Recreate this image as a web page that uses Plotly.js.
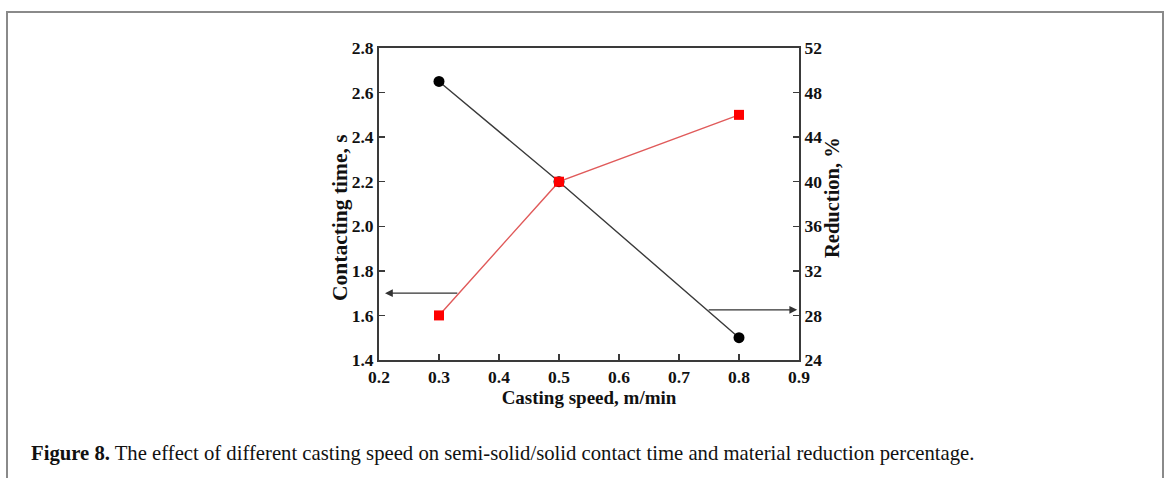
<!DOCTYPE html>
<html>
<head>
<meta charset="utf-8">
<script src="https://cdn.plot.ly/plotly-3.0.1.min.js"></script>
<style>
  html, body { margin: 0; padding: 0; background: #fff; }
  #wrap { position: relative; width: 1168px; height: 478px; overflow: hidden; }
  #frame { position: absolute; left: 6px; top: 11px; width: 1158px; height: 480px;
           border: 2px solid #8a8a8a; border-bottom: none; box-sizing: border-box; }
  #chart { position: absolute; left: 0; top: 0; width: 1168px; height: 478px; }
</style>
</head>
<body>
<div id="wrap">
  <div id="frame"></div>
  <div id="chart"></div>
</div>
<script>
// Data
const castingSpeed = [0.3, 0.5, 0.8];
const contactTime = [2.65, 2.2, 1.5];      // left axis, s
const reductionPct = [28, 40, 46];          // right axis, %

// Indicator arrows (tail x, head x, level)
const leftArrow = { fromX: 0.333, toX: 0.21, y: 1.7 };      // points to left axis
const rightArrow = { fromX: 0.747, toX: 0.897, y: 28.5 };   // points to right axis (y2 units)

const serif = 'Liberation Serif, Times New Roman, serif';
const axisColor = '#3a3a3a';

const traces = [
  {
    x: castingSpeed, y: contactTime, type: 'scatter', mode: 'lines+markers',
    line: { color: '#3a3a3a', width: 1.4 },
    marker: { symbol: 'circle', size: 11, color: '#000000' },
    yaxis: 'y', showlegend: false
  },
  {
    x: castingSpeed, y: reductionPct, type: 'scatter', mode: 'lines+markers',
    line: { color: '#e05a5a', width: 1.4 },
    marker: { symbol: 'square', size: 10, color: '#ff0000' },
    yaxis: 'y2', showlegend: false
  }
];

const tickFont = { family: serif, size: 17.5, color: '#111', weight: 'bold' };
const titleFont = { family: serif, size: 19, color: '#111', weight: 'bold' };

const layout = {
  width: 1168, height: 478,
  paper_bgcolor: 'rgba(0,0,0,0)', plot_bgcolor: '#fff',
  margin: { l: 379, r: 369, t: 48, b: 118 },
  xaxis: {
    range: [0.2, 0.9], dtick: 0.1, tick0: 0.2, tickformat: '.1f',
    showline: true, linecolor: axisColor, linewidth: 2, mirror: true,
    ticks: 'inside', ticklen: 6, tickcolor: axisColor, tickwidth: 1.3,
    showgrid: false, zeroline: false, tickfont: tickFont,
    title: { text: 'Casting speed, m/min', font: titleFont, standoff: 2 }
  },
  yaxis: {
    range: [1.4, 2.8], dtick: 0.2, tick0: 1.4, tickformat: '.1f',
    showline: true, linecolor: axisColor, linewidth: 2,
    ticks: 'inside', ticklen: 6, tickcolor: axisColor, tickwidth: 1.3,
    showgrid: false, zeroline: false, tickfont: tickFont
  },
  yaxis2: {
    range: [24, 52], dtick: 4, tick0: 24, overlaying: 'y', side: 'right',
    showline: true, linecolor: axisColor, linewidth: 2,
    ticks: 'inside', ticklen: 6, tickcolor: axisColor, tickwidth: 1.3,
    showgrid: false, zeroline: false, tickfont: tickFont
  },
  annotations: [
    {
      x: leftArrow.toX, y: leftArrow.y, xref: 'x', yref: 'y',
      ax: leftArrow.fromX, ay: leftArrow.y, axref: 'x', ayref: 'y',
      text: '', showarrow: true, arrowhead: 2, arrowsize: 1.2, arrowwidth: 1.3, arrowcolor: '#333'
    },
    {
      x: rightArrow.toX, y: rightArrow.y, xref: 'x', yref: 'y2',
      ax: rightArrow.fromX, ay: rightArrow.y, axref: 'x', ayref: 'y2',
      text: '', showarrow: true, arrowhead: 2, arrowsize: 1.2, arrowwidth: 1.3, arrowcolor: '#333'
    },
    {
      xref: 'paper', yref: 'paper', x: (340 - 379) / 420, y: (360 - 218) / 312,
      xanchor: 'center', yanchor: 'middle', showarrow: false, textangle: -90,
      text: 'Contacting time, s', font: { family: serif, size: 21.5, color: '#111', weight: 'bold' }
    },
    {
      xref: 'paper', yref: 'paper', x: (832 - 379) / 420, y: (360 - 198) / 312,
      xanchor: 'center', yanchor: 'middle', showarrow: false, textangle: -90,
      text: 'Reduction, %', font: { family: serif, size: 20.5, color: '#111', weight: 'bold' }
    },
    {
      xref: 'paper', yref: 'paper', x: (29 - 379) / 420, y: (360 - 453) / 312,
      xanchor: 'left', yanchor: 'middle', showarrow: false,
      text: '<b>Figure 8.</b> The effect of different casting speed on semi-solid/solid contact time and material reduction percentage.',
      font: { family: serif, size: 20.7, color: '#111' }
    }
  ]
};

Plotly.newPlot('chart', traces, layout, { displayModeBar: false, staticPlot: true });
</script>
</body>
</html>
